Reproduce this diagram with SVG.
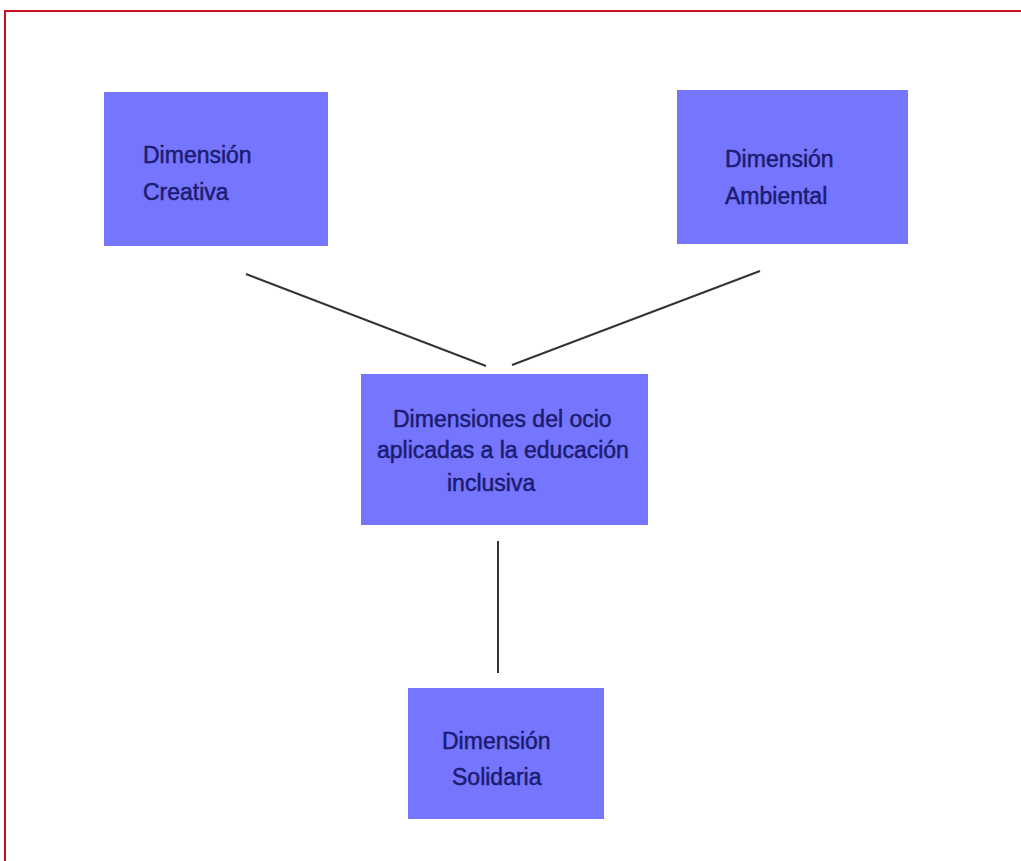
<svg xmlns="http://www.w3.org/2000/svg" width="1021" height="861" viewBox="0 0 1021 861">
<style>
.box{fill:#7575fd;}
.t{font-family:"Liberation Sans",Arial,sans-serif;font-size:23px;fill:#1c1c72;stroke:#1c1c72;stroke-width:0.5;}
.c{stroke:#333;stroke-width:2;fill:none;}
</style>
<rect width="1021" height="861" fill="#fff"/>
<path d="M5 861 V11 H1021" fill="none" stroke="#c8101e" stroke-width="2"/>
<g id="connectors">
<line class="c" x1="246" y1="274" x2="486" y2="366"/>
<line class="c" x1="760" y1="271" x2="512" y2="365"/>
<line class="c" x1="498" y1="541" x2="498" y2="673"/>
</g>
<g id="creativa">
<rect class="box" x="104" y="92" width="224" height="154"/>
<text class="t" x="143" y="163">Dimensión</text>
<text class="t" x="143" y="200">Creativa</text>
</g>
<g id="ambiental">
<rect class="box" x="677" y="90" width="231" height="154"/>
<text class="t" x="725" y="167">Dimensión</text>
<text class="t" x="725" y="204">Ambiental</text>
</g>
<g id="centro">
<rect class="box" x="361" y="374" width="287" height="151"/>
<text class="t" x="393" y="427">Dimensiones del ocio</text>
<text class="t" x="377" y="458">aplicadas a la educación</text>
<text class="t" x="447" y="491">inclusiva</text>
</g>
<g id="solidaria">
<rect class="box" x="408" y="688" width="196" height="131"/>
<text class="t" x="442" y="749">Dimensión</text>
<text class="t" x="452" y="785">Solidaria</text>
</g>
</svg>
